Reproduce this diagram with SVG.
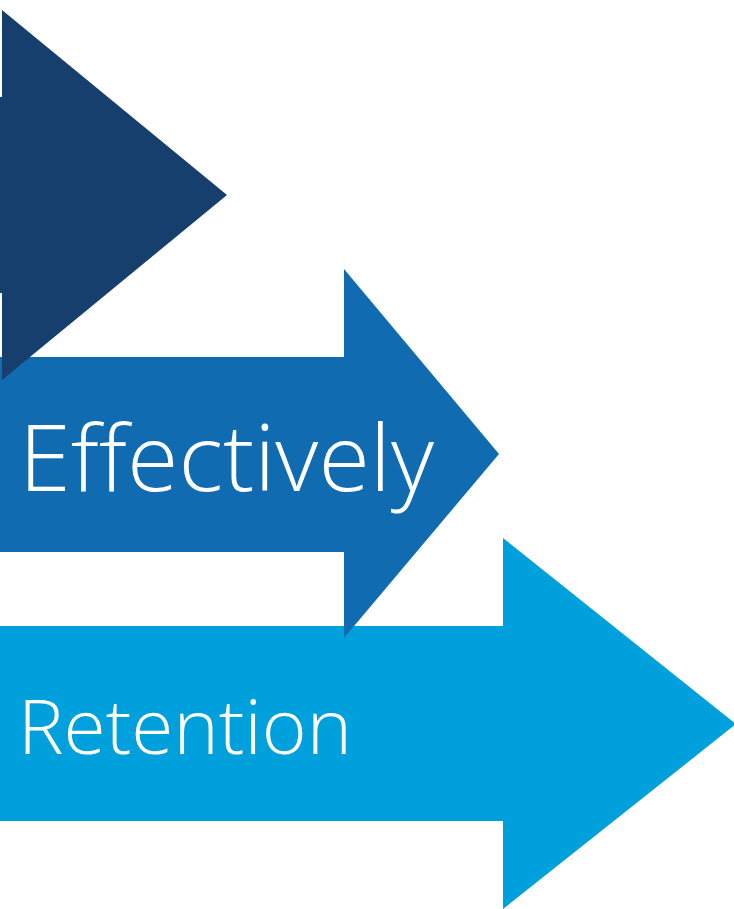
<svg xmlns="http://www.w3.org/2000/svg" width="734" height="909" viewBox="0 0 734 909">
<style>
.lbl{font-family:"Open Sans","Liberation Sans",sans-serif;font-weight:300;fill:#ffffff}
</style>
<rect width="734" height="909" fill="#ffffff"/>
<g id="arrow-retention">
<polygon points="-10,626 503,626 503,538 736,724 503,909 503,821 -10,821" fill="#00A0DC"/>
<text class="lbl" x="18" y="754" font-size="75" textLength="334" lengthAdjust="spacingAndGlyphs">Retention</text>
</g>
<g id="arrow-effectively">
<polygon points="-10,357 344,357 344,269 499,454 344,638 344,552 -10,552" fill="#106BB1"/>
<text class="lbl" x="19" y="491" font-size="93" textLength="415" lengthAdjust="spacingAndGlyphs">Effectively</text>
</g>
<g id="arrow-top">
<polygon points="-10,97 2,97 2,10 227,195 2,380 2,293 -10,293" fill="#163F6D"/>
</g>
<g id="connectors"></g>
</svg>
